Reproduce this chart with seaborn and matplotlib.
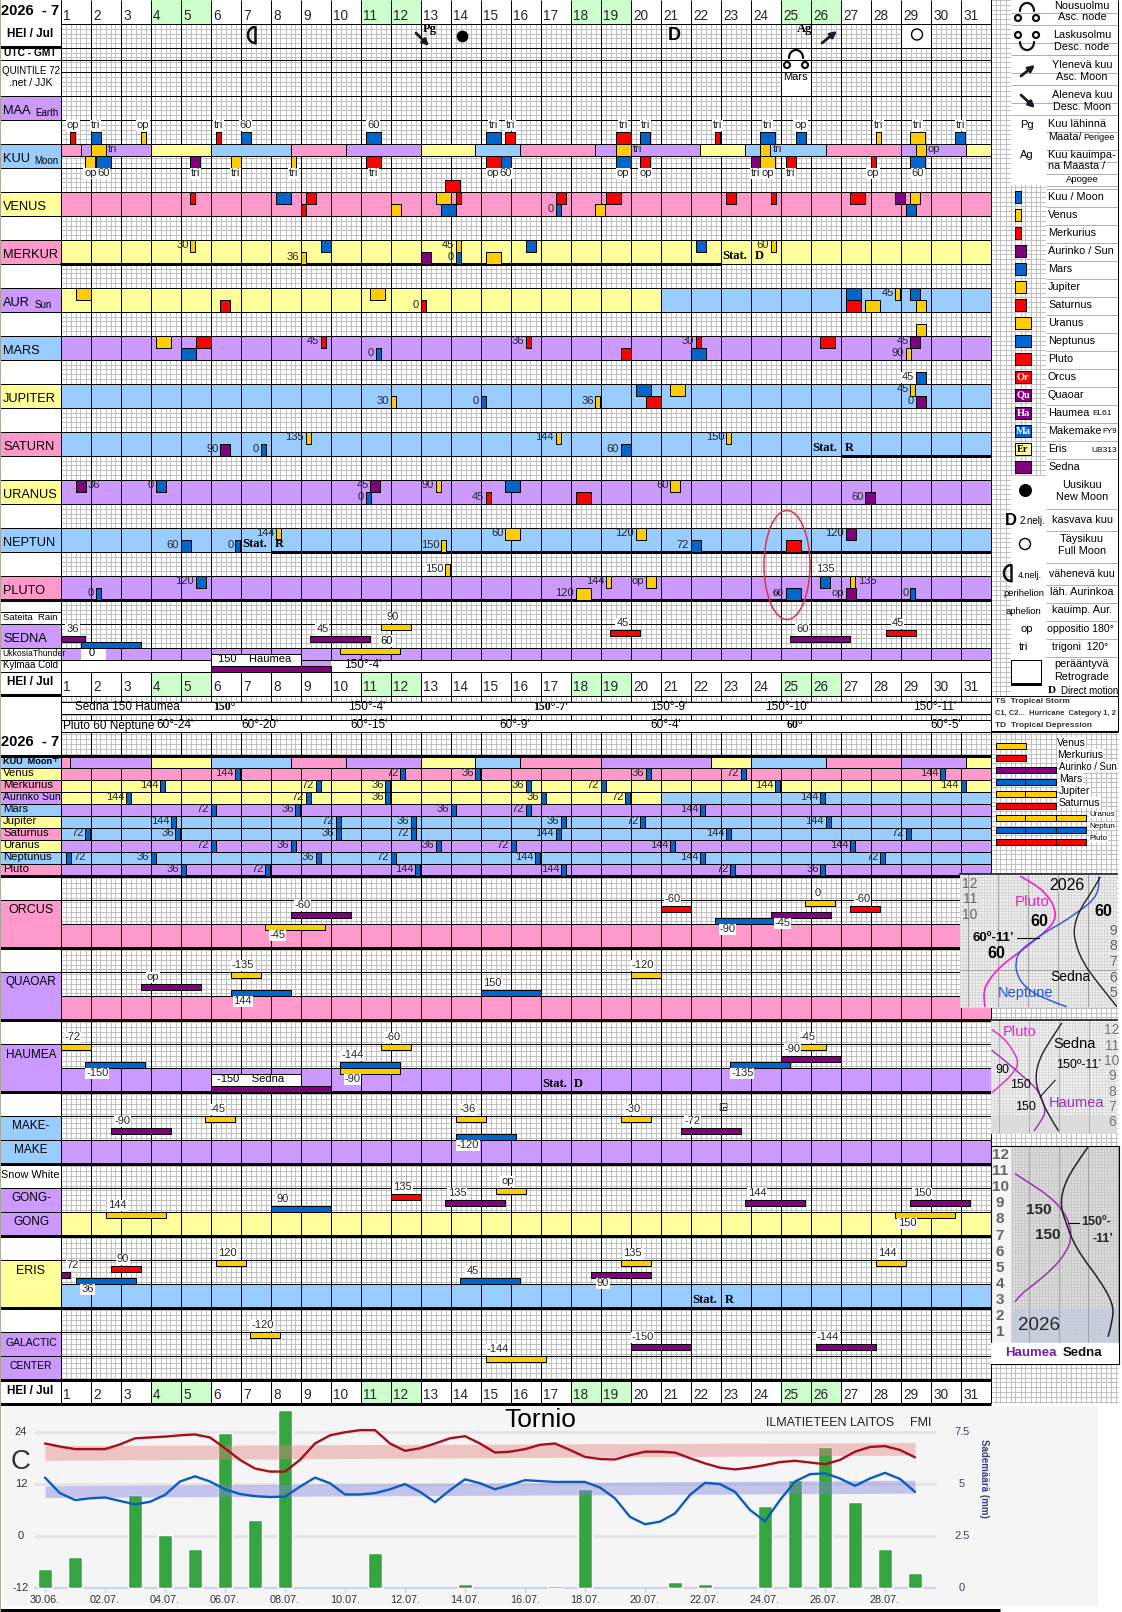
import numpy as np
import seaborn as sns
import matplotlib.pyplot as plt
from matplotlib.patches import Rectangle, Ellipse, PathPatch
from matplotlib.path import Path

sns.set_theme(style="white")
plt.rcParams['font.family'] = ['Liberation Sans', 'DejaVu Sans']

# --- data ---------------------------------------------------------------
days = list(range(1, 32))
weekend_days = [4, 5, 11, 12, 18, 19, 25, 26]

# moon sign segments: day where each one ends, and its colour key
moon_hel_ends = [1.67, 4, 6, 8.67, 10.5, 13, 14.83, 16.33, 18.83, 22.33, 23.83, 26.5, 29, 31.17, 32]
moon_hel_cols = list('pvybpvybpvybpvy')
moon_utc_ends = [1.33, 4, 6, 8.67, 10.5, 13, 14.83, 16.33, 19, 22.67, 24, 26.5, 29, 31.17, 32]
moon_utc_cols = list('pvybpvybpvybpvy')

# aspect marks: planet, start day, lane, label, label side
kuu_marks = [('me', 1.33, -1, 'op', 'a'), ('ma', 2.0, -1, 'tri', 'a'), ('ve', 3.67, -1, 'op', 'a'),
             ('me', 6.17, -1, 'tri', 'a'), ('ma', 7.0, -1, '60', 'a'), ('ne', 11.17, -1, '60', 'a'),
             ('ne', 15.17, -1, 'tri', 'a'), ('sa', 15.83, -1, 'tri', 'a'), ('pl', 19.5, -1, 'tri', 'a'),
             ('ma', 20.33, -1, 'tri', 'a'), ('me', 22.83, -1, 'tri', 'a'), ('ne', 24.33, -1, 'tri', 'a'),
             ('ma', 25.5, -1, 'op', 'a'), ('ve', 28.17, -1, 'tri', 'a'), ('ur', 29.33, -1, 'tri', 'a'),
             ('ma', 30.83, -1, 'tri', 'a'),
             ('ur', 2.0, 0, 'tri', 'r'), ('ur', 19.5, 0, 'tri', 'r'), ('ju', 24.33, 0, 'tri', 'r'),
             ('ju', 29.5, 0, 'op', 'r'),
             ('ju', 1.83, 1, 'op', 'b'), ('ne', 2.17, 1, '60', 'b'), ('su', 5.33, 1, 'tri', 'b'),
             ('ju', 6.67, 1, 'tri', 'b'), ('ve', 8.67, 1, 'tri', 'b'), ('pl', 11.17, 1, 'tri', 'b'),
             ('pl', 15.17, 1, 'op', 'b'), ('ma', 15.67, 1, '60', 'b'), ('ne', 19.5, 1, 'op', 'b'),
             ('sa', 20.33, 1, 'op', 'b'), ('su', 24.0, 1, 'tri', 'b'), ('ur', 24.33, 1, 'op', 'b'),
             ('sa', 25.17, 1, 'tri', 'b'), ('me', 28.0, 1, 'op', 'b'), ('ne', 29.33, 1, '60', 'b')]
venus_marks = [('pl', 13.83, -1, '', ''), ('me', 5.33, 0, '', ''), ('ne', 8.17, 0, '', ''), ('sa', 9.17, 0, '', ''),
               ('ur', 13.5, 0, '', ''), ('me', 14.17, 0, '', ''), ('sa', 17.5, 0, '', ''), ('pl', 19.17, 0, '', ''),
               ('sa', 23.17, 0, '', ''), ('me', 24.67, 0, '', ''), ('pl', 27.33, 0, '', ''), ('su', 28.83, 0, '', ''),
               ('ju', 29.33, 0, '', ''), ('me', 9.0, 1, '', ''), ('ju', 12.0, 1, '', ''), ('ne', 13.67, 1, '', ''),
               ('mo', 17.5, 1, '0', 'l'), ('ju', 18.83, 1, '', ''), ('ma', 29.17, 1, '', '')]
merkur_marks = [('ve', 5.33, 0, '30', 'l'), ('ma', 9.67, 0, '', ''), ('ve', 14.17, 0, '45', 'l'),
                ('ma', 16.5, 0, '', ''), ('ma', 22.17, 0, '', ''), ('ve', 24.67, 0, '60', 'l'),
                ('ve', 9.0, 1, '36', 'l'), ('su', 13.0, 1, '', ''), ('mo', 14.17, 1, '0', 'l'), ('ur', 15.17, 1, '', '')]
aur_marks = [('ur', 1.5, 0, '', ''), ('ur', 11.33, 0, '', ''), ('ne', 27.17, 0, '', ''), ('ve', 28.83, 0, '45', 'l'),
             ('ma', 29.33, 0, '', ''), ('sa', 6.33, 1, '', ''), ('me', 13.0, 1, '0', 'l'), ('pl', 27.17, 1, '', ''),
             ('ur', 27.83, 1, '', ''), ('ju', 29.5, 1, '', '')]
mars_marks = [('ju', 29.5, -1, '', ''), ('ur', 4.17, 0, '', ''), ('pl', 5.5, 0, '', ''), ('me', 9.67, 0, '45', 'l'),
              ('me', 16.5, 0, '36', 'l'), ('me', 22.17, 0, '30', 'l'), ('pl', 26.33, 0, '', ''), ('su', 29.33, 0, '45', 'l'),
              ('ne', 5.0, 1, '', ''), ('mo', 11.5, 1, '0', 'l'), ('sa', 19.67, 1, '', ''), ('ne', 22.0, 1, '', ''),
              ('ve', 29.17, 1, '90', 'l')]
jupiter_marks = [('ma', 29.5, -1, '45', 'l'), ('ne', 20.17, 0, '', ''), ('ur', 21.33, 0, '', ''), ('ve', 29.33, 0, '45', 'l'),
                 ('ve', 12.0, 1, '30', 'l'), ('mo', 15.0, 1, '0', 'l'), ('ve', 18.83, 1, '36', 'l'), ('pl', 20.5, 1, '', ''),
                 ('su', 29.5, 1, '0', 'l')]
saturn_marks = [('ve', 9.17, 0, '135', 'l'), ('ve', 17.5, 0, '144', 'l'), ('ve', 23.17, 0, '150', 'l'),
                ('su', 6.33, 1, '90', 'l'), ('mo', 7.67, 1, '0', 'l'), ('ma', 19.67, 1, '60', 'l')]
uranus_marks = [('su', 1.5, 0, '36', 'r'), ('ma', 4.17, 0, '0', 'l'), ('su', 11.33, 0, '45', 'l'), ('ve', 13.5, 0, '90', 'l'),
                ('ne', 15.83, 0, '', ''), ('ju', 21.33, 0, '60', 'l'), ('mo', 11.17, 1, '0', 'l'), ('me', 15.17, 1, '45', 'l'),
                ('pl', 18.17, 1, '', ''), ('su', 27.83, 1, '60', 'l')]
neptun_marks = [('ve', 8.17, 0, '144', 'l'), ('ur', 15.83, 0, '60', 'l'), ('ju', 20.17, 0, '120', 'l'), ('su', 27.17, 0, '120', 'l'),
                ('ma', 5.0, 1, '60', 'l'), ('mo', 6.83, 1, '0', 'l'), ('ve', 13.67, 1, '150', 'l'), ('ma', 22.0, 1, '72', 'l'),
                ('pl', 25.17, 1, '', '')]
pluto_marks = [('ve', 13.83, -1, '150', 'l'), ('ma', 5.5, 0, '120', 'l'), ('ve', 19.17, 0, '144', 'l'), ('ju', 20.5, 0, 'op', 'l'),
               ('ma', 26.33, 0, '135', 'a'), ('ve', 27.33, 0, '135', 'r'), ('mo', 2.17, 1, '0', 'l'), ('ur', 18.17, 1, '120', 'l'),
               ('ne', 25.17, 1, '60', 'L'), ('su', 27.17, 1, 'op', 'l'), ('mo', 29.33, 1, '0', 'l')]

# moon aspects in the twelve pixel rows: start day, label
moon_rows = ['Venus', 'Merkurius', 'AurinkoSun', 'Mars', 'Jupiter', 'Saturnus', 'Uranus', 'Neptunus', 'Pluto']
moon_row_label_cols = list('ypvbypybp')
moon_row_band_cols = list('pyyvbbvbv')
moon_row_ticks = [
    [(6.83, '144'), (12.33, '72'), (14.83, '36'), (20.5, '36'), (23.67, '72'), (30.33, '144')],
    [(4.33, '144'), (9.5, '72'), (11.83, '36'), (16.5, '36'), (19.0, '72'), (24.83, '144'), (31.0, '144')],
    [(3.17, '144'), (9.17, '72'), (11.83, '36'), (17.0, '36'), (19.83, '72'), (26.33, '144')],
    [(6.0, '72'), (8.83, '36'), (14.0, '36'), (16.5, '72'), (22.33, '144')],
    [(4.67, '144'), (10.17, '72'), (12.67, '36'), (17.67, '36'), (20.33, '72'), (26.5, '144')],
    [(1.83, '72'), (4.83, '36'), (10.17, '36'), (12.67, '72'), (17.5, '144'), (23.17, '144'), (29.17, '72')],
    [(6.0, '72'), (8.67, '36'), (13.5, '36'), (16.0, '72'), (21.33, '144'), (27.33, '144')],
    [(1.17, '72'), (4.0, '36'), (9.5, '36'), (12.0, '72'), (16.83, '144'), (22.33, '144'), (28.33, '72')],
    [(5.0, '36'), (7.83, '72'), (12.83, '144'), (17.67, '144'), (23.33, '72'), (26.33, '36')],
]

# slow planet bars: planet, start day, lane, label, side
sedna_bars = [('su', -0.17, 2, '36', 'a'), ('ma', 1.67, 3, '', ''), ('ve', 11.67, 0, '90', 'a'), ('su', 9.33, 2, '45', 'a'),
              ('ju', 10.33, 4, '', ''), ('me', 19.33, 1, '45', 'a'), ('su', 25.33, 2, '60', 'a'), ('me', 28.5, 1, '45', 'a'),
              ('se', 6.0, 7, '', '')]
orcus_bars = [('su', 8.67, 2, '-60', 'a'), ('ju', 7.83, 4, '-45', 'b'), ('me', 21.0, 1, '-60', 'a'), ('ma', 22.83, 3, '-90', 'b'),
              ('ve', 25.83, 0, '0', 'a'), ('su', 24.67, 2, '-45', 'b'), ('me', 27.33, 1, '-60', 'a')]
quaoar_bars = [('ve', 6.67, 0, '-135', 'a'), ('su', 3.67, 2, 'op', 'a'), ('ma', 6.67, 3, '144', 'b'), ('ma', 15.0, 3, '150', 'a'),
               ('ve', 20.0, 0, '-120', 'a')]
haumea_bars = [('ve', 1.0, 0, '-72', 'a'), ('ma', 1.83, 3, '-150', 'b'), ('se', 6.0, 7, '', ''), ('ma', 10.33, 3, '-144', 'a'),
               ('ju', 10.33, 4, '-90', 'b'), ('ve', 11.67, 0, '-60', 'a'), ('ma', 23.33, 3, '-135', 'b'), ('su', 25.0, 2, '-90', 'a'),
               ('ve', 25.5, 0, '-45', 'a')]
make_bars = [('ve', 5.83, 0, '-45', 'a'), ('su', 2.67, 2, '-90', 'a'), ('ve', 14.17, 0, '-36', 'a'), ('ma', 14.17, 3, '-120', 'b'),
             ('ve', 19.67, 0, '-30', 'a'), ('su', 21.67, 2, '-72', 'a')]
gong_bars = [('ju', 2.5, 4, '144', 'a'), ('ma', 8.0, 3, '90', 'a'), ('me', 12.0, 1, '135', 'a'), ('su', 13.83, 2, '135', 'a'),
             ('ve', 15.5, 0, 'op', 'a'), ('su', 23.83, 2, '144', 'a'), ('su', 29.33, 2, '150', 'a'), ('ju', 28.83, 4, '150', 'b')]
eris_bars = [('su', -0.67, 2, '72', 'a'), ('ma', 1.5, 3, '36', 'b'), ('me', 2.67, 1, '90', 'a'), ('ve', 6.17, 0, '120', 'a'),
             ('ma', 14.33, 3, '45', 'a'), ('ve', 19.67, 0, '135', 'a'), ('su', 18.67, 2, '90', 'b'), ('ve', 28.17, 0, '144', 'a')]
galactic_bars = [('ve', 7.33, 0, '-120', 'a'), ('ju', 15.17, 4, '-144', 'a'), ('su', 20.0, 2, '-150', 'a'), ('su', 26.17, 2, '-144', 'a')]

sedna_haumea_days = [(127, 'Sedna 150 Haumea', False), (224, "150°", True), (367, "150°-4'", False), (551, "150°-7'", True),
                     (669, "150°-9'", False), (787, "150°-10'", False), (935, "150°-11'", False)]
pluto_neptune_days = [(109, 'Pluto 60 Neptune', False), (175, "60°-24'", False), (260, "60°-20'", False), (369, "60°-15'", False),
                      (515, "60°-9'", False), (666, "60°-4'", False), (795, "60°", True), (946, "60°-5'", False)]

# Tornio weather
rain_day = [0, 1, 3, 4, 5, 6, 7, 8, 11, 14, 17, 18, 21, 22, 24, 25, 26, 27, 28, 29]
rain_mm = [0.88, 1.48, 4.47, 2.56, 1.88, 7.45, 3.27, 8.58, 1.67, 0.18, 0.1, 4.75, 0.29, 0.18, 3.95, 5.19, 6.78, 4.15, 1.87, 0.69]
temp_max = [21.4, 20.7, 20.1, 20.1, 20.1, 21.2, 22.6, 22.8, 23.0, 23.3, 23.5, 22.8, 20.3, 17.6, 15.6, 14.9, 14.9, 17.6, 21.4, 23.3,
            24.0, 24.5, 24.5, 21.4, 19.7, 20.3, 21.4, 22.6, 23.1, 21.4, 19.3, 19.5, 20.1, 21.1, 21.4, 19.9, 18.3, 17.8, 17.7, 18.7,
            19.5, 19.5, 19.3, 18.0, 16.8, 15.8, 15.4, 15.8, 16.4, 17.1, 17.4, 17.0, 16.6, 17.6, 19.5, 20.6, 20.8, 19.9, 18.2]
temp_min = [13.5, 9.9, 8.3, 8.7, 8.9, 8.1, 7.3, 7.9, 9.5, 12.6, 13.8, 12.6, 10.8, 9.7, 9.2, 9.0, 9.1, 11.4, 13.5, 12.2,
            9.6, 9.6, 9.9, 10.8, 12.0, 10.2, 7.8, 10.6, 13.1, 12.2, 10.8, 11.8, 12.9, 12.7, 12.5, 12.5, 12.5, 11.2, 8.7, 4.4,
            2.7, 3.3, 5.2, 9.5, 12.3, 12.0, 10.2, 6.0, 3.4, 8.3, 12.6, 14.3, 14.5, 13.3, 11.6, 13.3, 14.6, 13.2, 10.2]
normal_max_top = [20.9, 21.6]
normal_max_bottom = [17.5, 18.7]
normal_min_top = [11.6, 12.9]
normal_min_bottom = [8.9, 9.9]
date_ticks = ['30.06.', '02.07.', '04.07.', '06.07.', '08.07.', '10.07.', '12.07.', '14.07.', '16.07.', '18.07.',
              '20.07.', '22.07.', '24.07.', '26.07.', '28.07.']

# month curves of the three small plots
c1_pluto_x = [180, 230, 265, 285, 285, 260, 210, 160, 120, 85, 68, 75]
c1_pluto_m = [12.47, 11.89, 11.15, 10.40, 9.66, 9.02, 8.13, 7.36, 6.68, 5.83, 4.98, 4.13]
c1_neptune_x = [415, 418, 400, 360, 310, 265, 220, 180, 165, 172, 200, 250, 320]
c1_neptune_m = [12.43, 11.79, 10.94, 10.30, 9.55, 9.02, 8.38, 7.74, 7.0, 6.04, 5.30, 4.66, 4.13]
c1_sedna_x = [420, 395, 360, 340, 345, 370, 410, 470]
c1_sedna_m = [12.43, 11.47, 10.40, 9.23, 8.17, 6.89, 5.72, 4.13]
c2_pluto_x = [95, 130, 165, 175, 165, 140, 95]
c2_pluto_m = [12.04, 11.57, 10.48, 9.83, 9.39, 8.74, 7.91]
c2_haumea_x = [95, 140, 190, 235, 258, 245, 222]
c2_haumea_m = [10.70, 9.93, 8.96, 8.09, 6.78, 6.13, 5.43]
c2_sedna_x = [305, 270, 235, 225, 240, 265, 295]
c2_sedna_m = [12.48, 11.35, 10.04, 8.74, 7.65, 6.46, 5.43]
c3_haumea_x = [165, 220, 270, 305, 330, 335, 320, 280, 220, 185, 165]
c3_haumea_m = [10.86, 10.13, 9.41, 8.68, 7.75, 6.81, 5.98, 4.95, 3.91, 3.39, 2.87]
c3_sedna_x = [385, 345, 310, 302, 320, 335, 370, 420, 460, 460, 445]
c3_sedna_m = [12.52, 11.38, 10.03, 8.78, 7.75, 6.81, 5.57, 4.22, 2.77, 1.73, 0.69]

# --- styles ---------------------------------------------------------------
BAND = {'p': '#ff99cc', 'y': '#ffff99', 'b': '#99ccff', 'v': '#cc99ff', 'g': '#ccffcc', 'w': 'white'}
MARK = {'mo': '#0066cc', 've': '#ffcc00', 'me': '#ff0000', 'su': '#800080', 'ma': '#0066cc', 'ju': '#ffcc00',
        'sa': '#ff0000', 'ur': '#ffcc00', 'ne': '#0066cc', 'pl': '#ff0000', 'se': '#800080'}
MARK_W = {'mo': 5, 've': 5, 'me': 5, 'su': 10, 'ma': 10, 'ju': 10, 'sa': 10, 'ur': 15, 'ne': 15, 'pl': 15}
BAR_W = {'ve': 30, 'me': 30, 'su': 60, 'ma': 60, 'ju': 60, 'sa': 60, 'ur': 90, 'ne': 90, 'pl': 90, 'se': 120}
PX = 0.72  # one pixel line
SERIF = ['Liberation Serif', 'DejaVu Serif']

fig = plt.figure(figsize=(11.22, 16.12), dpi=100, facecolor='white')
ax = fig.add_axes([0, 0, 1, 1])


def d(px):
    # picture column to day scale
    return 1 + (px - 60.5) / 30


ax.set_xlim(d(0), d(1122))
ax.set_ylim(1612, 0)
ax.axis('off')


def box(x0, x1, y0, y1, fc, ec='none', z=2, lw=PX):
    ax.add_patch(Rectangle((x0, y0), x1 - x0, y1 - y0, fc=fc, ec=ec, lw=lw, zorder=z))


def T(px, y, s, size=8, ha='center', weight='normal', color='black', family=None, bg=None, z=7, pad=0.5, rot=0):
    kw = {}
    if family:
        kw['family'] = family
    if bg:
        kw['bbox'] = dict(fc=bg, ec='none', pad=pad)
    ax.text(d(px), y, s, fontsize=size, ha=ha, va='center', fontweight=weight, color=color, zorder=z, rotation=rot, **kw)


def hl(y, x0=60.5, x1=990.5, lw=PX, color='black', z=3.6):
    l = ax.hlines(y, d(x0), d(x1), colors=color, lw=lw, zorder=z)
    l.set_snap(True)


def label_at(day, y, text, side, z=6):
    bg = 'white' if side in 'ab' else None
    kw = dict(fontsize=8, va='center', zorder=z)
    if bg:
        kw['bbox'] = dict(fc='white', ec='none', pad=0.6)
    ax.text(day, y, text, **kw, ha={'a': 'center', 'b': 'center', 'l': 'right', 'r': 'left', 'L': 'right'}[side],
            **({'fontweight': 'bold', 'family': SERIF} if side == 'L' else {}))


def marks(top, items):
    for pl, start, lane, label, side in items:
        y0 = top + lane * 12
        w = MARK_W[pl] / 30
        box(start, start + w, y0, y0 + 12, MARK[pl], 'black', z=4)
        if not label:
            continue
        if side == 'a':
            label_at(start + w / 2, y0 - 6, label, 'a')
        elif side == 'b':
            label_at(start + w / 2, y0 + 18, label, 'b')
        elif side in 'lL':
            if lane < 0:
                ax.text(start - 0.05, y0 + 6, label, fontsize=8, ha='right', va='center', zorder=6,
                        bbox=dict(fc='white', ec='none', pad=0.6))
            else:
                label_at(start - 0.05, y0 + 6, label, side)
        else:
            label_at(start + w + 0.08, y0 + 6, label, 'r')


def bars(top, items):
    for pl, start, lane, label, side in items:
        y0 = top + lane * 6
        x0 = max(start, 1)
        x1 = start + BAR_W[pl] / 30
        box(x0, x1, y0, y0 + 6, MARK[pl], 'black', z=4)
        if label:
            y = y0 - 6 if side == 'a' else y0 + 12
            label_at(x0 + 0.4, y, label, side)


def arc(cx, cy, rx, ry, a0, a1, lw=1.6, color='#111111', z=6):
    t = np.radians(np.linspace(a0, a1, 40))
    ax.plot(d(cx) + rx * np.cos(t) / 30, cy + ry * np.sin(t), color=color, lw=lw, zorder=z)


def node(cx, cy, up=True, z=6):
    f = 1 if up else -1
    a0, a1 = (180, 360) if up else (0, 180)
    arc(cx, cy - f * 2, 7, 8, a0, a1, z=z)
    for s in (-1, 1):
        arc(cx + s * 9, cy + f * 5, 3, 3, 0, 360, z=z)


def moon_quarter(cx, cy, lw=1.8):
    # fourth quarter: bow to the left, straight edge on the right
    arc(cx + 3, cy, 7, 8, 90, 270, lw=lw)
    ax.plot([d(cx + 3)] * 2, [cy - 8, cy + 8], color='#111111', lw=lw, zorder=6)


def arrow(x0, y0, x1, y1):
    ax.annotate('', xy=(d(x1), y1), xytext=(d(x0), y0), zorder=6,
                arrowprops=dict(arrowstyle='-|>', lw=2, color='#1a1a2a', mutation_scale=9, shrinkA=0, shrinkB=0))


# --- fine grid and day lines ------------------------------------------------
g = ax.vlines(d(np.arange(60.5, 1118, 5)), 0, 1403, colors='#c0c0c0', lw=PX, zorder=1)
g.set_snap(True)
g = ax.hlines(np.arange(-0.1, 1403, 4.8), d(60.5), d(1118), colors='#c0c0c0', lw=PX, zorder=1)
g.set_snap(True)
v = ax.vlines(list(range(1, 33)), 0, 1403, colors='black', lw=PX, zorder=3)
v.set_snap(True)

# header rows
for top in (0, 671.5):
    bottom = 23.5 if top == 0 else 695.5
    box(1, 32, top, bottom, 'white')
    for day in weekend_days:
        box(day, day + 1, top, bottom, BAND['g'])
    for day in days:
        ax.text(day + 0.09, top + 15.5, str(day), fontsize=9.8, ha='left', va='center', zorder=6)
box(1, 32, 1379.5, 1403.5, 'white')
for day in weekend_days:
    box(day, day + 1, 1379.5, 1403.5, BAND['g'])
for day in days:
    ax.text(day + 0.09, 1395, str(day), fontsize=9.8, ha='left', va='center', zorder=6)

# full rows of colour: top, bottom, colour
for top, key in [(191.5, 'p'), (239.5, 'y'), (335.5, 'v'), (383.5, 'b'), (431.5, 'b'), (479.5, 'v'), (527.5, 'b'),
                 (575.5, 'v')]:
    box(1, 32, top, top + 24, BAND[key])
box(1, 21, 287.5, 311.5, BAND['y'])
box(21, 32, 287.5, 311.5, BAND['b'])
box(1, 32, 647.5, 659.5, BAND['v'])
box(9, 10, 659.5, 665.5, BAND['v'])
for top, key in [(923.5, 'p'), (995.5, 'p'), (1067.5, 'v'), (1139.5, 'v'), (1211.5, 'y'), (1283.5, 'b')]:
    box(1, 32, top, top + 24, BAND[key])

# moon sign bands
for ends, cols, y0 in ((moon_hel_ends, moon_hel_cols, 143.5), (moon_utc_ends, moon_utc_cols, 755.5)):
    start = 1
    for end, c in zip(ends, cols):
        box(start, end, y0, y0 + 12, BAND[c], 'black', z=3.2)
        start = end

# white cells
box(29, 30, 23.5, 47.5, 'white')
box(25, 26, 47.5, 95.5, 'white')
box(1, 32, 701.5, 713.5, 'white', z=3.5)
box(1, 32, 719.5, 731.5, 'white', z=3.5)
box(1, 6, 659.5, 671.5, 'white', z=3.5)
box(10, 32, 659.5, 671.5, 'white', z=3.5)
box(1.67, 2.5, 647.5, 659.5, 'white', z=3.5)
T(92, 653, '0', 8)

# horizontal lines
for y in list(np.arange(23.5, 672, 24)) + [59.5, 695.5, 701.5, 713.5, 719.5, 731.5, 755.5, 659.5]:
    hl(y)
for y in np.arange(755.5, 876, 12):
    hl(y, x0=0)
for y in np.arange(899.5, 1380, 24):
    hl(y)
for y, x0, x1 in [(263.5, 60, 720.5), (455.5, 840.5, 990.5), (551.5, 270.5, 990.5), (599.5, 0, 990.5), (755.5, 0, 990.5),
                  (875.5, 0, 990.5), (947.5, 0, 960.5), (1019.5, 0, 990.5), (1091.5, 0, 990.5), (1163.5, 0, 990.5),
                  (1235.5, 0, 990.5), (1307.5, 0, 990.5), (1379.5, 0, 990.5), (1403.5, 0, 990.5), (46.5, 0, 60.5), (695, 0, 60.5)]:
    hl(y, x0, x1, lw=2.16)
hl(1610, 0, 1000, lw=2.16)
ax.vlines(d(60.5), 0, 1403, colors='black', lw=PX, zorder=3.7).set_snap(True)
ax.vlines(d(0.5), 0, 1612, colors='#aca899', lw=1.4, zorder=8)

# top marks
for top, items in [(143.5, kuu_marks), (191.5, venus_marks), (239.5, merkur_marks), (287.5, aur_marks), (335.5, mars_marks),
                   (383.5, jupiter_marks), (431.5, saturn_marks), (479.5, uranus_marks), (527.5, neptun_marks),
                   (575.5, pluto_marks)]:
    marks(top, items)

for px, y, s in [(735, 256, 'Stat.'), (825, 448, 'Stat.'), (255, 544, 'Stat.'), (555, 1084, 'Stat.'), (705, 1300, 'Stat.')]:
    T(px, y, s, 9, weight='bold', family=SERIF, z=6)
for px, y, s in [(759, 256, 'D'), (849, 448, 'R'), (279, 544, 'R'), (578, 1084, 'D'), (729, 1300, 'R')]:
    T(px, y, s, 9, weight='bold', family=SERIF, z=6)

# moon phases and nodes in the top rows
moon_quarter(252, 35)
T(674, 36, 'D', 13, weight='bold', z=6)
ax.scatter([d(462)], [36], s=55, color='black', zorder=6)
ax.add_patch(Ellipse((d(917), 34.5), 11 / 30, 11, fc='white', ec='black', lw=1, zorder=6))
arrow(416, 33, 429, 46)
arrow(822, 43, 837, 31)
T(430, 29, 'Pg', 9, weight='bold', family=SERIF)
T(805, 29, 'Ag', 9, weight='bold', family=SERIF)
node(796, 60)
T(795, 77, 'Mars', 8)
ax.add_patch(Ellipse((d(787), 565), 46 / 30, 109, fc='none', ec='#e0304a', lw=1.1, zorder=8))

# left column
T(30, 11, '2026  - 7', 10.5, weight='bold')
T(30, 34, 'HEI / Jul', 8.5, weight='bold')
T(30, 53, 'UTC - GMT', 7.3, weight='bold')
T(31, 70.5, 'QUINTILE 72', 7)
T(31, 83, '.net / JJK', 7.5)
hl(59.5, 0, 60.5)
for top, key, name, sub, subx in [(95.5, 'v', 'MAA', 'Earth', 35), (143.5, 'b', 'KUU', 'Moon', 34), (191.5, 'y', 'VENUS', '', 0),
                                  (239.5, 'p', 'MERKUR', '', 0), (287.5, 'v', 'AUR', 'Sun', 35), (335.5, 'b', 'MARS', '', 0),
                                  (383.5, 'y', 'JUPITER', '', 0), (431.5, 'p', 'SATURN', '', 0), (479.5, 'y', 'URANUS', '', 0),
                                  (527.5, 'b', 'NEPTUN', '', 0), (575.5, 'p', 'PLUTO', '', 0), (623.5, 'v', 'SEDNA', '', 0)]:
    box(d(0.5), 1, top, top + 24, BAND[key], 'black', z=3.3)
    T(3, top + 16, name, 9.2, ha='left')
    if sub:
        T(subx, top + 17, sub, 7, ha='left')
T(3, 617, 'Sateita  Rain', 6.8, ha='left')
T(2, 653, 'UkkosiaThunder', 6.2, ha='left')
T(3, 665, 'Kylmää Cold', 7, ha='left')
T(30, 682, 'HEI / Jul', 8.5, weight='bold')
hl(611.5, 0, 60.5)
hl(647.5, 0, 60.5)
hl(659.5, 0, 60.5)
hl(671.5, 0, 60.5)
T(30, 742, '2026  - 7', 10.5, weight='bold')

for top, key, lines in [(899.5, 'p', [(910, 'ORCUS', 9)]), (971.5, 'v', [(982.5, 'QUAOAR', 8.5)]), (1043.5, 'v', [(1055, 'HAUMEA', 8.5)]),
                        (1115.5, 'b', [(1126, 'MAKE-', 8.5), (1150, 'MAKE', 8.5)]), (1187.5, 'v', [(1198, 'GONG-', 8.5), (1222, 'GONG', 8.5)]),
                        (1259.5, 'y', [(1271, 'ERIS', 9)]), (1331.5, 'v', [(1343, 'GALACTIC', 7.5), (1366, 'CENTER', 7.5)])]:
    box(d(0.5), 1, top, top + 48, BAND[key], 'black', z=3.3)
    for y, s, size in lines:
        T(31, y, s, size)
T(30, 1175, 'Snow White', 7.8)
T(30, 1391, 'HEI / Jul', 8.5, weight='bold')
hl(1139.5, 0, 60.5)
hl(1211.5, 0, 60.5)
hl(1355.5, 0, 60.5)

# the two degree rows
for px, s, b in sedna_haumea_days:
    T(px, 707.5, s, 8.5, weight='bold' if b else 'normal', family=SERIF if b else None)
for px, s, b in pluto_neptune_days:
    T(px, 725.5, s, 8.5, weight='bold' if b else 'normal', family=SERIF if b else None)

# moon rows
box(d(0.5), 1, 755.5, 767.5, BAND['b'], 'black', z=3.3)
T(3, 761.5, 'KUU  Moon', 6.6, ha='left', weight='bold')
T(55, 760, '+', 9)
for i, name in enumerate(moon_rows):
    top = 767.5 + i * 12
    box(d(0.5), 1, top, top + 12, BAND[moon_row_label_cols[i]], 'black', z=3.3)
    T(3, top + 6, name.replace('AurinkoSun', 'Aurinko Sun'), 7.6 if name == 'AurinkoSun' else 8.2, ha='left')
    key = moon_row_band_cols[i]
    if name == 'AurinkoSun':
        box(1, 21, top, top + 12, BAND['y'])
        box(21, 32, top, top + 12, BAND['b'])
    else:
        box(1, 32, top, top + 12, BAND[key])
    for start, label in moon_row_ticks[i]:
        box(start, start + 5 / 30, top, top + 12, MARK['mo'], 'black', z=4)
        if name == 'Neptunus' and start < 2:
            ax.text(start + 0.27, top + 6, label, fontsize=8, ha='left', va='center', zorder=6)
        else:
            ax.text(start - 0.05, top + 6, label, fontsize=8, ha='right', va='center', zorder=6)

# slow planet panels
for top, items in [(623.5, sedna_bars), (899.5, orcus_bars), (971.5, quaoar_bars), (1043.5, haumea_bars), (1115.5, make_bars),
                   (1187.5, gong_bars), (1259.5, eris_bars), (1331.5, galactic_bars)]:
    bars(top, items)
box(6, 9, 653.5, 665.5, 'white', 'black', z=3.8)
T(255, 659.5, '150    Haumea', 8)
T(387, 641, '60', 8, bg='white', pad=1)
T(363, 665.5, "150°-4'", 8.5)
box(6, 9, 1073.5, 1085.5, 'white', 'black', z=3.8)
T(251, 1079.5, '-150    Sedna', 8)
T(723, 1107, '\u25f2', 7, z=6, family='DejaVu Sans')

# --- right column legend -----------------------------------------------------
box(d(1011), d(1118), 0, 119.5, 'white', z=3.5)
for y in (12.5, 24.5, 42.5, 54.5, 72.5, 84.5, 102.5, 114.5):
    hl(y, 1011, 1118, color='#b0b0b0')
box(d(1011), d(1118), 119.5, 185, 'white', z=3.5)
box(d(1046), d(1118), 185, 476, 'white', z=3.5)
for y in np.arange(188.5, 476, 18):
    hl(y, 1046, 1118, color='#b0b0b0')
box(d(1011), d(1118), 476, 695.5, 'white', z=3.5)
box(d(990.5), d(1118), 695.5, 731.5, 'white', z=3.5)
for y in (131.5, 149.5, 161.5, 173.5, 185.5, 508.5, 530.5, 562.5, 584.5, 602.5, 620.5, 638.5, 656.5):
    hl(y, 1046, 1118, color='#b0b0b0')
hl(695.5, 990.5, 1118)
hl(731.5, 990.5, 1118, lw=1.4)
ax.vlines(d(1118), 0, 731.5, colors='black', lw=PX, zorder=3.8).set_snap(True)
ax.vlines(d(990.5), 0, 1403, colors='black', lw=PX, zorder=3.8).set_snap(True)

for y, s, size in [(6, 'Nousuolmu', 7.8), (17.5, 'Asc. node', 7.8), (35.5, 'Laskusolmu', 7.8), (47, 'Desc. node', 7.8), (65, 'Ylenevä kuu', 7.8),
                   (77, 'Asc. Moon', 7.8), (95, 'Aleneva kuu', 7.8), (107, 'Desc. Moon', 7.8), (179, 'Apogee', 6.8), (485, 'Uusikuu', 7.8),
                   (497, 'New Moon', 7.8), (520, 'kasvava kuu', 7.8), (539, 'Täysikuu', 7.8), (551, 'Full Moon', 7.8), (574, 'vähenevä kuu', 7.6),
                   (592, 'läh. Aurinkoa', 7.8), (610, 'kauimp. Aur.', 7.8), (664, 'perääntyvä', 7.8), (677, 'Retrograde', 7.8)]:
    T(1082, y, s, size)
T(1027, 125, 'Pg', 8)
T(1027, 155, 'Ag', 8)
T(1048, 124, 'Kuu lähinnä', 7.8, ha='left')
T(1048, 137, 'Maata/', 7.8, ha='left')
T(1083, 137.5, 'Perigee', 6.5, ha='left')
T(1048, 155, 'Kuu kauimpa-', 7.8, ha='left')
T(1048, 166, 'na Maasta /', 7.8, ha='left')
node(1027, 13)
node(1027, 40, up=False)
arrow(1021, 76, 1035, 65)
arrow(1021, 95, 1035, 108)

planet_legend = [('Kuu / Moon', 'mo', ''), ('Venus', 've', ''), ('Merkurius', 'me', ''), ('Aurinko / Sun', 'su', ''), ('Mars', 'ma', ''),
                 ('Jupiter', 'ju', ''), ('Saturnus', 'sa', ''), ('Uranus', 'ur', ''), ('Neptunus', 'ne', ''), ('Pluto', 'pl', ''),
                 ('Orcus', 'pl', 'Or'), ('Quaoar', 'su', 'Qu'), ('Haumea', 'su', 'Ha'), ('Makemake', 'ne', 'Ma'), ('Eris', 'er', 'Er'),
                 ('Sedna', 'su', '')]
for i, (name, key, code) in enumerate(planet_legend):
    y = 197 + i * 18
    w = 15 if (code or name == 'Sedna') else MARK_W[key]
    box(d(1015.5), d(1015.5 + w), y - 6, y + 6, BAND['y'] if key == 'er' else MARK[key], 'black', z=4)
    if code:
        T(1023, y, code, 7.5, weight='bold', color='black' if key == 'er' else 'white', family=SERIF)
    T(1048, y, name, 7.8, ha='left')
T(1092, 413.5, 'EL61', 6, ha='left')
T(1102, 431.5, 'FY9', 5.8, ha='left')
T(1091, 450, 'UB313', 6, ha='left')
ax.scatter([d(1025)], [490], s=70, color='black', zorder=6)
T(1011, 520.5, 'D', 12, weight='bold')
T(1032, 521, '2.nelj.', 7)
ax.add_patch(Ellipse((d(1025), 544), 11 / 30, 11, fc='white', ec='black', lw=1, zorder=6))
moon_quarter(1008, 573)
T(1030, 575, '4.nelj.', 6.5)
T(1024, 593, 'perihelion', 6.8)
T(1024, 611, 'aphelion', 6.8)
T(1027, 628.5, 'op', 8)
T(1023, 646.5, 'tri', 8)
T(1080, 628.5, 'oppositio 180°', 7.6)
T(1080, 646.5, 'trigoni  120°', 7.6)
box(d(1010.5), d(1041), 659.5, 684.5, 'white', 'black', z=4)
hl(684, 1010.5, 1041, lw=2.16, z=5)
T(1052, 690.5, 'D', 8, weight='bold', family=SERIF)
T(1061, 690.5, 'Direct motion', 7, ha='left')
T(995, 701.5, 'TS  Tropical Storm', 6, ha='left', weight='bold', color='#333333')
T(995, 713.5, 'C1, C2...  Hurricane  Category 1, 2', 5.4, ha='left', weight='bold', color='#333333')
T(995, 725.5, 'TD  Tropical Depression', 6, ha='left', weight='bold', color='#333333')

bar_legend = [('Venus', 've', 1057, 7.5), ('Merkurius', 'me', 1057, 7.5), ('Aurinko / Sun', 'su', 1059, 6.9), ('Mars', 'ma', 1059, 7.5),
              ('Jupiter', 'ju', 1059, 7.5), ('Saturnus', 'sa', 1059, 7.5), ('Uranus', 'ur', 1089, 5.8), ('Neptun', 'ne', 1089, 5.8),
              ('Pluto', 'pl', 1089, 5.8)]
for i, (name, key, px, size) in enumerate(bar_legend):
    y = 743 + i * 12
    box(d(995.5), d(995.5 + BAR_W[key]), y, y + 6, MARK[key], 'black', z=4)
    for tick in range(30, BAR_W[key], 30):
        ax.vlines(d(995.5 + tick), y, y + 6, colors='black', lw=PX, zorder=4.5).set_snap(True)
    T(px, y - 0.5, name, size, ha='left', bg='white', pad=0.3)


# --- small month plots --------------------------------------------------------
def px_axes(l, t, r, b):
    return fig.add_axes([l / 1122, 1 - b / 1612, (r - l) / 1122, (b - t) / 1612], zorder=5)


def curve(a, xs, ys, color, lw=1.0):
    # quadratic spline with the read points as control points
    pts = np.column_stack([xs, ys])
    verts = [pts[0]]
    codes = [Path.MOVETO]
    for i in range(1, len(pts) - 1):
        end = (pts[i] + pts[i + 1]) / 2 if i < len(pts) - 2 else pts[i + 1]
        verts += [pts[i], end]
        codes += [Path.CURVE3, Path.CURVE3]
    a.add_patch(PathPatch(Path(verts, codes), fc='none', ec=color, lw=lw, zorder=4))


def small_plot(l, t, r, b, xlim, ylim, fc, fine, coarse):
    a = px_axes(l, t, r, b)
    a.set_xlim(*xlim)
    a.set_ylim(*ylim)
    a.set_facecolor(fc)
    a.set_xticks([])
    a.set_yticks([])
    for s in a.spines.values():
        s.set_visible(False)
    a.vlines(np.arange(xlim[0], xlim[1], 9), ylim[0], ylim[1], colors=fine, lw=0.5, zorder=1)
    a.hlines(np.linspace(ylim[0], ylim[1], int((b - t) / 3)), xlim[0], xlim[1], colors=fine, lw=0.5, zorder=1)
    a.vlines(np.arange(xlim[0] + 24, xlim[1], 90), ylim[0], ylim[1], colors=coarse, lw=0.5, zorder=2)
    return a


# plot one: Pluto, Neptune, Sedna
a1 = small_plot(960, 873.5, 1117, 1007.5, (0, 470), (4.09, 12.64), '#eeeeee', '#d0d0d0', '#888888')
a1.spines['top'].set_visible(True)
curve(a1, c1_pluto_x, c1_pluto_m, '#ee22cc', 1.2)
curve(a1, c1_neptune_x, c1_neptune_m, '#2255dd')
curve(a1, c1_sedna_x, c1_sedna_m, '#222222')
a1.plot([172, 235], [8.5, 8.5], color='black', lw=0.8, zorder=4)
a1.hlines(6.5, 0, 470, colors='#888888', lw=0.5, zorder=2)
for m, x in [(12, 30), (11, 30), (10, 30), (9, 458), (8, 458), (7, 458), (6, 458), (5, 458)]:
    a1.text(x, m, str(m), fontsize=10, color='#666666', ha='center', va='center', zorder=5)
for x, m, s, size, c, w in [(320, 11.87, '2026', 11.5, 'black', 'normal'), (215, 10.85, 'Pluto', 11, '#ee22cc', 'normal'),
                            (238, 9.60, '60', 11.5, 'black', 'bold'), (430, 10.23, '60', 11.5, 'black', 'bold'),
                            (100, 8.55, '60º-11’', 9.5, 'black', 'bold'), (110, 7.53, '60', 11.5, 'black', 'bold'),
                            (330, 6.02, 'Sedna', 10, 'black', 'normal'), (195, 5.02, 'Neptune', 10.5, '#2255dd', 'normal')]:
    a1.text(x, m, s, fontsize=size, color=c, fontweight=w, ha='center', va='center', zorder=6)

# plot two: Pluto, Haumea, Sedna
a2 = small_plot(990.7, 1019.5, 1117, 1133.5, (92, 470), (5.26, 12.70), '#f0f0f0', '#d4d4d4', '#999999')
a2.spines['top'].set_visible(True)
a2.axhspan(5.26, 6.4, color='#dcdcdc', zorder=1.5)
curve(a2, c2_pluto_x, c2_pluto_m, '#ee22cc')
curve(a2, c2_haumea_x, c2_haumea_m, '#9933aa')
curve(a2, c2_sedna_x, c2_sedna_m, '#222222')
a2.plot([285, 240], [8.74, 7.65], color='black', lw=0.7, zorder=4)
for m in range(6, 13):
    a2.text(455, m, str(m), fontsize=10, color='#777777', ha='center', va='center', zorder=5)
for x, m, s, size, c in [(178, 11.91, 'Pluto', 10.5, '#ee22cc'), (343, 11.09, 'Sedna', 10.5, 'black'), (128, 9.39, '90', 9, 'black'),
                         (180, 8.41, '150', 9, 'black'), (355, 9.72, '150º-11’', 9, 'black'), (195, 6.96, '150', 9, 'black'),
                         (348, 7.28, 'Haumea', 10.5, '#9933bb')]:
    a2.text(x, m, s, fontsize=size, color=c, ha='center', va='center', zorder=6)

# plot three: Haumea, Sedna
a3 = small_plot(990.7, 1146, 1119, 1364, (92, 478), (-1.01, 12.58), '#dcdcdc', '#c4c4c4', '#8f8f8f')
for s in a3.spines.values():
    s.set_visible(True)
    s.set_color('black')
    s.set_linewidth(0.8)
a3.axvspan(92, 150, color='#f4f4f4', zorder=2.5)
a3.axhspan(0.3, 2.4, xmin=(150 - 92) / 386, color='#c3cde0', alpha=0.8, zorder=1.5)
a3.axhspan(-1.01, 0.3, color='white', zorder=3)
curve(a3, c3_haumea_x, c3_haumea_m, '#9933aa', 1.1)
curve(a3, c3_sedna_x, c3_sedna_m, '#222222', 1.1)
a3.plot([325, 358], [7.8, 7.8], color='black', lw=0.8, zorder=4)
for m in range(1, 13):
    a3.text(120, m, str(m), fontsize=11, color='#666666', fontweight='bold', ha='center', va='center', zorder=5)
for x, m, s, size in [(238, 8.6, '150', 11), (265, 7.05, '150', 11), (410, 7.85, '150º-', 9), (430, 6.8, '-11’', 9), (237, 1.4, '2026', 13.5)]:
    a3.text(x, m, s, fontsize=size, fontweight='bold' if size < 13 else 'normal', ha='center', va='center', zorder=6)
a3.text(212, -0.33, 'Haumea', fontsize=9.5, fontweight='bold', color='#7a1fa2', ha='center', va='center', zorder=6)
a3.text(367, -0.33, 'Sedna', fontsize=9.5, fontweight='bold', color='#111111', ha='center', va='center', zorder=6)

# --- Tornio weather chart ------------------------------------------------------
axt = px_axes(3.5, 1406, 1098, 1606)
axr = axt.twinx()
axr.set_zorder(axt.get_zorder())
axt.set_zorder(axr.get_zorder() + 1)
axt.patch.set_visible(False)
axr.patch.set_visible(True)
axr.patch.set_facecolor('#f5f5f5')

x_lim = ((3.5 - 45) / 30, (1098 - 45) / 30)
sns.barplot(x=rain_day, y=rain_mm, native_scale=True, width=0.47, color='#35a540', saturation=1, ax=axr, zorder=3)
axr.hlines([2.5, 5, 7.5], -0.37, 29.7, colors='#e4e4e4', lw=2, zorder=1)
axr.hlines(0, -0.37, 29.7, colors='#ccd6eb', lw=1.6, zorder=1)

axt.fill_between([0, 29], normal_max_bottom, normal_max_top, color='#e58080', alpha=0.42, lw=0, zorder=2)
axt.fill_between([0, 29], normal_min_bottom, normal_min_top, color='#7f7fe0', alpha=0.42, lw=0, zorder=2)
half_days = np.arange(len(temp_max)) / 2
sns.lineplot(x=half_days, y=temp_max, color='#a50f1e', lw=1.7, ax=axt, zorder=4)
sns.lineplot(x=half_days, y=temp_min, color='#0a5cc0', lw=1.7, ax=axt, zorder=4)

axt.set_xlim(*x_lim)
axr.set_xlim(*x_lim)
axt.set_ylim(-16.24, 30.09)
axr.set_ylim(-0.883, 8.77)
for a in (axt, axr):
    a.set_xticks([])
    a.set_yticks([])
    a.set_xlabel('')
    a.set_ylabel('')
    for s in a.spines.values():
        s.set_visible(False)
for t in (24, 12, 0, -12):
    axt.text(-0.8, t, str(t), fontsize=8, color='#333333', ha='center', va='center')
for mm, s in [(24, '7.5'), (12, '5'), (0, '2.5'), (-12, '0')]:
    axt.text(30.57, mm, s, fontsize=8, color='#3f3f7f', ha='center', va='center')
axt.text(-0.8, 17.2, 'C', fontsize=20, color='#333333', ha='center', va='center')
axt.text(31.3, 13.2, 'Sademäärä (mm)', fontsize=7, color='#3f3f7f', rotation=-90, ha='center', va='center', fontweight='bold')
axt.text(16.5, 26.9, 'Tornio', fontsize=19, ha='center', va='center', color='black')
axt.text(26.17, 26.2, 'ILMATIETEEN LAITOS', fontsize=9, ha='center', va='center', color='#222222')
axt.text(29.2, 26.2, 'FMI', fontsize=9, ha='center', va='center', color='#222222')
for i, lab in enumerate(date_ticks):
    axt.text(i * 2, -14.9, lab, fontsize=7.8, ha='center', va='center', color='#333333')
    axt.plot([i * 2, i * 2], [-12, -13], color='#ccd6eb', lw=1)

fig.savefig('out.png', dpi=100)
